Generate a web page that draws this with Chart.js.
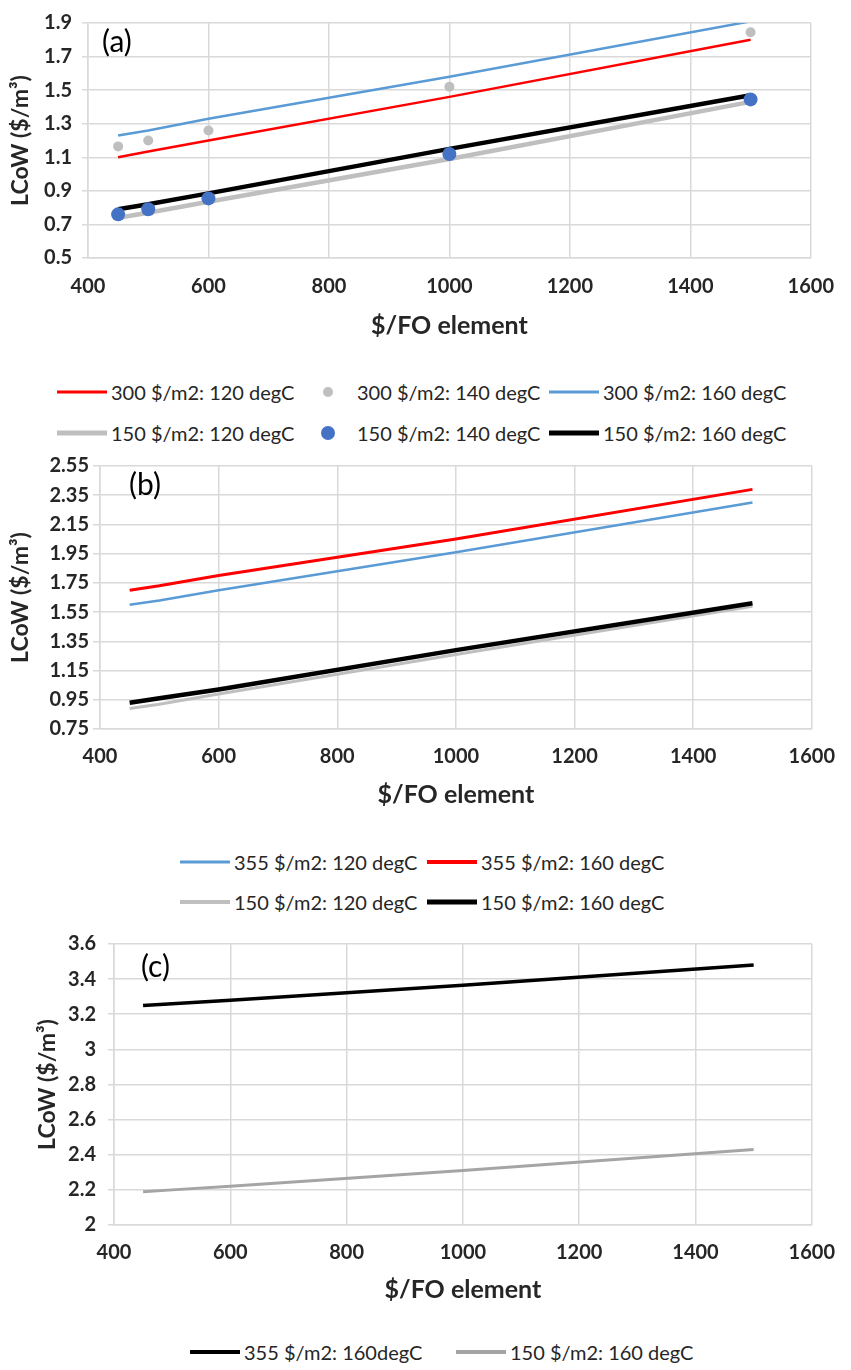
<!DOCTYPE html>
<html>
<head>
<meta charset="utf-8">
<title>LCoW vs $/FO element</title>
<script src="https://cdn.jsdelivr.net/npm/chart.js@4.4.1/dist/chart.umd.min.js"></script>
<style>
    body { margin: 0; background: #fff; }
    #wrap { position: relative; width: 851px; height: 1370px; font-family: Lato, "Open Sans", sans-serif; }
    canvas { position: absolute; left: 0; }
    .legend { position: absolute; display: grid; color: #262626; font-size: 20px; }
    .legend .item { display: flex; align-items: center; white-space: nowrap; }
    .legend .swatch { position: relative; display: inline-block; width: 50px; height: 14px; flex: none; }
    .legend .swatch i { position: absolute; left: 0; right: 0; top: 50%; transform: translateY(-50%); }
    .legend .swatch b { position: absolute; left: 50%; top: 50%; border-radius: 50%; transform: translate(-50%, -50%); }
    .legend .txt { margin-left: 4px; }
</style>
</head>
<body>
<div id="wrap">
    <canvas id="chartA" width="851" height="350" style="top:0"></canvas>
    <div id="legendA" class="legend" style="left:57px; top:371px; grid-template-columns: repeat(3, 246px); grid-auto-rows: 41px;"></div>

    <canvas id="chartB" width="851" height="360" style="top:450px"></canvas>
    <div id="legendB" class="legend" style="left:180px; top:842px; grid-template-columns: repeat(2, 247px); grid-auto-rows: 40px;"></div>

    <canvas id="chartC" width="851" height="385" style="top:920px"></canvas>
    <div id="legendC" class="legend" style="left:190px; top:1332px; grid-template-columns: 266px 266px; grid-auto-rows: 40px;"></div>
</div>

<script>
// x positions ($ per FO element) shared by every panel
const foCost = [450, 500, 600, 1000, 1500];
const xTicks = [400, 600, 800, 1000, 1200, 1400, 1600];

// panel (a) - LCoW values
const a300_120 = [1.10, 1.135, 1.20, 1.46, 1.80];
const a300_140 = [1.165, 1.20, 1.26, 1.52, 1.845];
const a300_160 = [1.23, 1.26, 1.33, 1.58, 1.91];
const a150_120 = [0.74, 0.77, 0.835, 1.09, 1.43];
const a150_140 = [0.76, 0.79, 0.855, 1.12, 1.445];
const a150_160 = [0.79, 0.82, 0.885, 1.15, 1.47];
const yTicksA = [0.5, 0.7, 0.9, 1.1, 1.3, 1.5, 1.7, 1.9];

// panel (b)
const b355_120 = [1.60, 1.63, 1.70, 1.96, 2.30];
const b355_160 = [1.70, 1.73, 1.80, 2.05, 2.39];
const b150_120 = [0.89, 0.92, 0.99, 1.26, 1.59];
const b150_160 = [0.93, 0.96, 1.02, 1.29, 1.61];
const yTicksB = [0.75, 0.95, 1.15, 1.35, 1.55, 1.75, 1.95, 2.15, 2.35, 2.55];

// panel (c)
const c355_160 = [3.25, 3.26, 3.28, 3.365, 3.48];
const c150_160 = [2.19, 2.20, 2.22, 2.31, 2.43];
const yTicksC = [2, 2.2, 2.4, 2.6, 2.8, 3, 3.2, 3.4, 3.6];

const GRID = '#d9d9d9';
const TEXT = '#262626';

function pts(ys) {
    return foCost.map((x, i) => ({x: x, y: ys[i]}));
}

function lineSet(label, ys, color, width, order) {
    return {
        label: label, data: pts(ys), borderColor: color, backgroundColor: color,
        borderWidth: width, pointRadius: 0, showLine: true, tension: 0, order: order,
        swatch: 'line', swatchSize: Math.max(3, Math.round(width + 0.5))
    };
}

function dotSet(label, ys, color, radius, order) {
    return {
        label: label, data: pts(ys), borderColor: color, backgroundColor: color,
        borderWidth: 0, pointRadius: radius, showLine: false, order: order,
        swatch: 'dot', swatchSize: radius * 2
    };
}

// draws the "(a)" style tag inside the plot area
const panelLabel = {
    id: 'panelLabel',
    afterDraw(chart, args, opts) {
        const ctx = chart.ctx;
        ctx.save();
        ctx.font = '30px Lato, "Open Sans", sans-serif';
        ctx.fillStyle = '#000';
        ctx.textBaseline = 'middle';
        ctx.fillText(opts.text, chart.chartArea.left + opts.dx, chart.chartArea.top + opts.dy);
        ctx.restore();
    }
};

function makeChart(id, datasets, cfg) {
    const ctx = document.getElementById(id).getContext('2d');
    return new Chart(ctx, {
        type: 'scatter',
        data: {datasets: datasets},
        plugins: [panelLabel],
        options: {
            responsive: false,
            animation: false,
            layout: {padding: {left: 0, top: cfg.top, right: cfg.right, bottom: 0}},
            plugins: {
                legend: {display: false},
                tooltip: {enabled: false},
                panelLabel: {text: cfg.tag, dx: cfg.tagDx, dy: cfg.tagDy}
            },
            scales: {
                x: {
                    type: 'linear', min: 400, max: 1600,
                    afterBuildTicks: s => { s.ticks = xTicks.map(v => ({value: v})); },
                    afterFit: s => { s.height = cfg.xHeight; },
                    grid: {color: GRID, lineWidth: 1.5, drawTicks: false},
                    border: {color: GRID, width: 1.5},
                    ticks: {
                        padding: cfg.xPad, color: TEXT,
                        font: {family: 'Lato', size: 20, weight: 'bold'},
                        callback: v => String(v)
                    },
                    title: {
                        display: true, text: '$/FO element', color: TEXT,
                        font: {family: 'Lato', size: 25, weight: 'bold'},
                        padding: {top: 0, bottom: cfg.xTitlePad}
                    }
                },
                y: {
                    type: 'linear', min: cfg.yTicks[0], max: cfg.yTicks[cfg.yTicks.length - 1],
                    afterBuildTicks: s => { s.ticks = cfg.yTicks.map(v => ({value: v})); },
                    afterFit: s => { s.width = cfg.left; },
                    grid: {color: GRID, lineWidth: 1.5, tickLength: cfg.tickLen},
                    border: {color: GRID, width: 1.5},
                    ticks: {
                        padding: cfg.yPad, color: TEXT,
                        font: {family: 'Lato', size: 20, weight: 'bold'},
                        callback: v => String(Math.round(v * 100) / 100)
                    },
                    title: {
                        display: true, text: 'LCoW ($/m³)', color: TEXT,
                        font: {family: 'Lato', size: 23, weight: 'bold'},
                        padding: {top: cfg.yTitlePad, bottom: 0}
                    }
                }
            }
        }
    });
}

// html legend built from the chart's own datasets
function buildLegend(chart, boxId) {
    const box = document.getElementById(boxId);
    chart.data.datasets.forEach(ds => {
        const item = document.createElement('div');
        item.className = 'item';
        const sw = document.createElement('span');
        sw.className = 'swatch';
        const mark = document.createElement(ds.swatch === 'dot' ? 'b' : 'i');
        mark.style.background = ds.borderColor;
        if (ds.swatch === 'dot') {
            mark.style.width = ds.swatchSize + 'px';
            mark.style.height = ds.swatchSize + 'px';
        } else {
            mark.style.height = ds.swatchSize + 'px';
        }
        sw.appendChild(mark);
        const txt = document.createElement('span');
        txt.className = 'txt';
        txt.textContent = ds.label;
        item.appendChild(sw);
        item.appendChild(txt);
        box.appendChild(item);
    });
}

const chartA = makeChart('chartA', [
    lineSet('300 $/m2: 120 degC', a300_120, '#ff0000', 2.5, 3),
    dotSet('300 $/m2: 140 degC', a300_140, '#bfbfbf', 5, 0),
    lineSet('300 $/m2: 160 degC', a300_160, '#5b9bd5', 2.5, 3),
    lineSet('150 $/m2: 120 degC', a150_120, '#bfbfbf', 4.5, 4),
    dotSet('150 $/m2: 140 degC', a150_140, '#4472c4', 7, 0),
    lineSet('150 $/m2: 160 degC', a150_160, '#000000', 4.5, 2)
], {top: 23, right: 31, left: 88, xHeight: 92, xPad: 17, xTitlePad: 9,
    tickLen: 6, yPad: 10, yTitlePad: 7, yTicks: yTicksA, tag: '(a)', tagDx: 14, tagDy: 19});
buildLegend(chartA, 'legendA');

const chartB = makeChart('chartB', [
    lineSet('355 $/m2: 120 degC', b355_120, '#5b9bd5', 2.5, 2),
    lineSet('355 $/m2: 160 degC', b355_160, '#ff0000', 3, 1),
    lineSet('150 $/m2: 120 degC', b150_120, '#bfbfbf', 3, 2),
    lineSet('150 $/m2: 160 degC', b150_160, '#000000', 4.5, 1)
], {top: 16, right: 31, left: 100, xHeight: 81, xPad: 16, xTitlePad: 0,
    tickLen: 7, yPad: 4, yTitlePad: 7, yTicks: yTicksB, tag: '(b)', tagDx: 29, tagDy: 19});
buildLegend(chartB, 'legendB');

const chartC = makeChart('chartC', [
    lineSet('355 $/m2: 160degC', c355_160, '#000000', 3.5, 1),
    lineSet('150 $/m2: 160 degC', c150_160, '#a5a5a5', 3, 1)
], {top: 13, right: 30, left: 114, xHeight: 80, xPad: 16, xTitlePad: 0,
    tickLen: 6, yPad: 12, yTitlePad: 34, yTicks: yTicksC, tag: '(c)', tagDx: 27, tagDy: 23});
buildLegend(chartC, 'legendC');
</script>
</body>
</html>
